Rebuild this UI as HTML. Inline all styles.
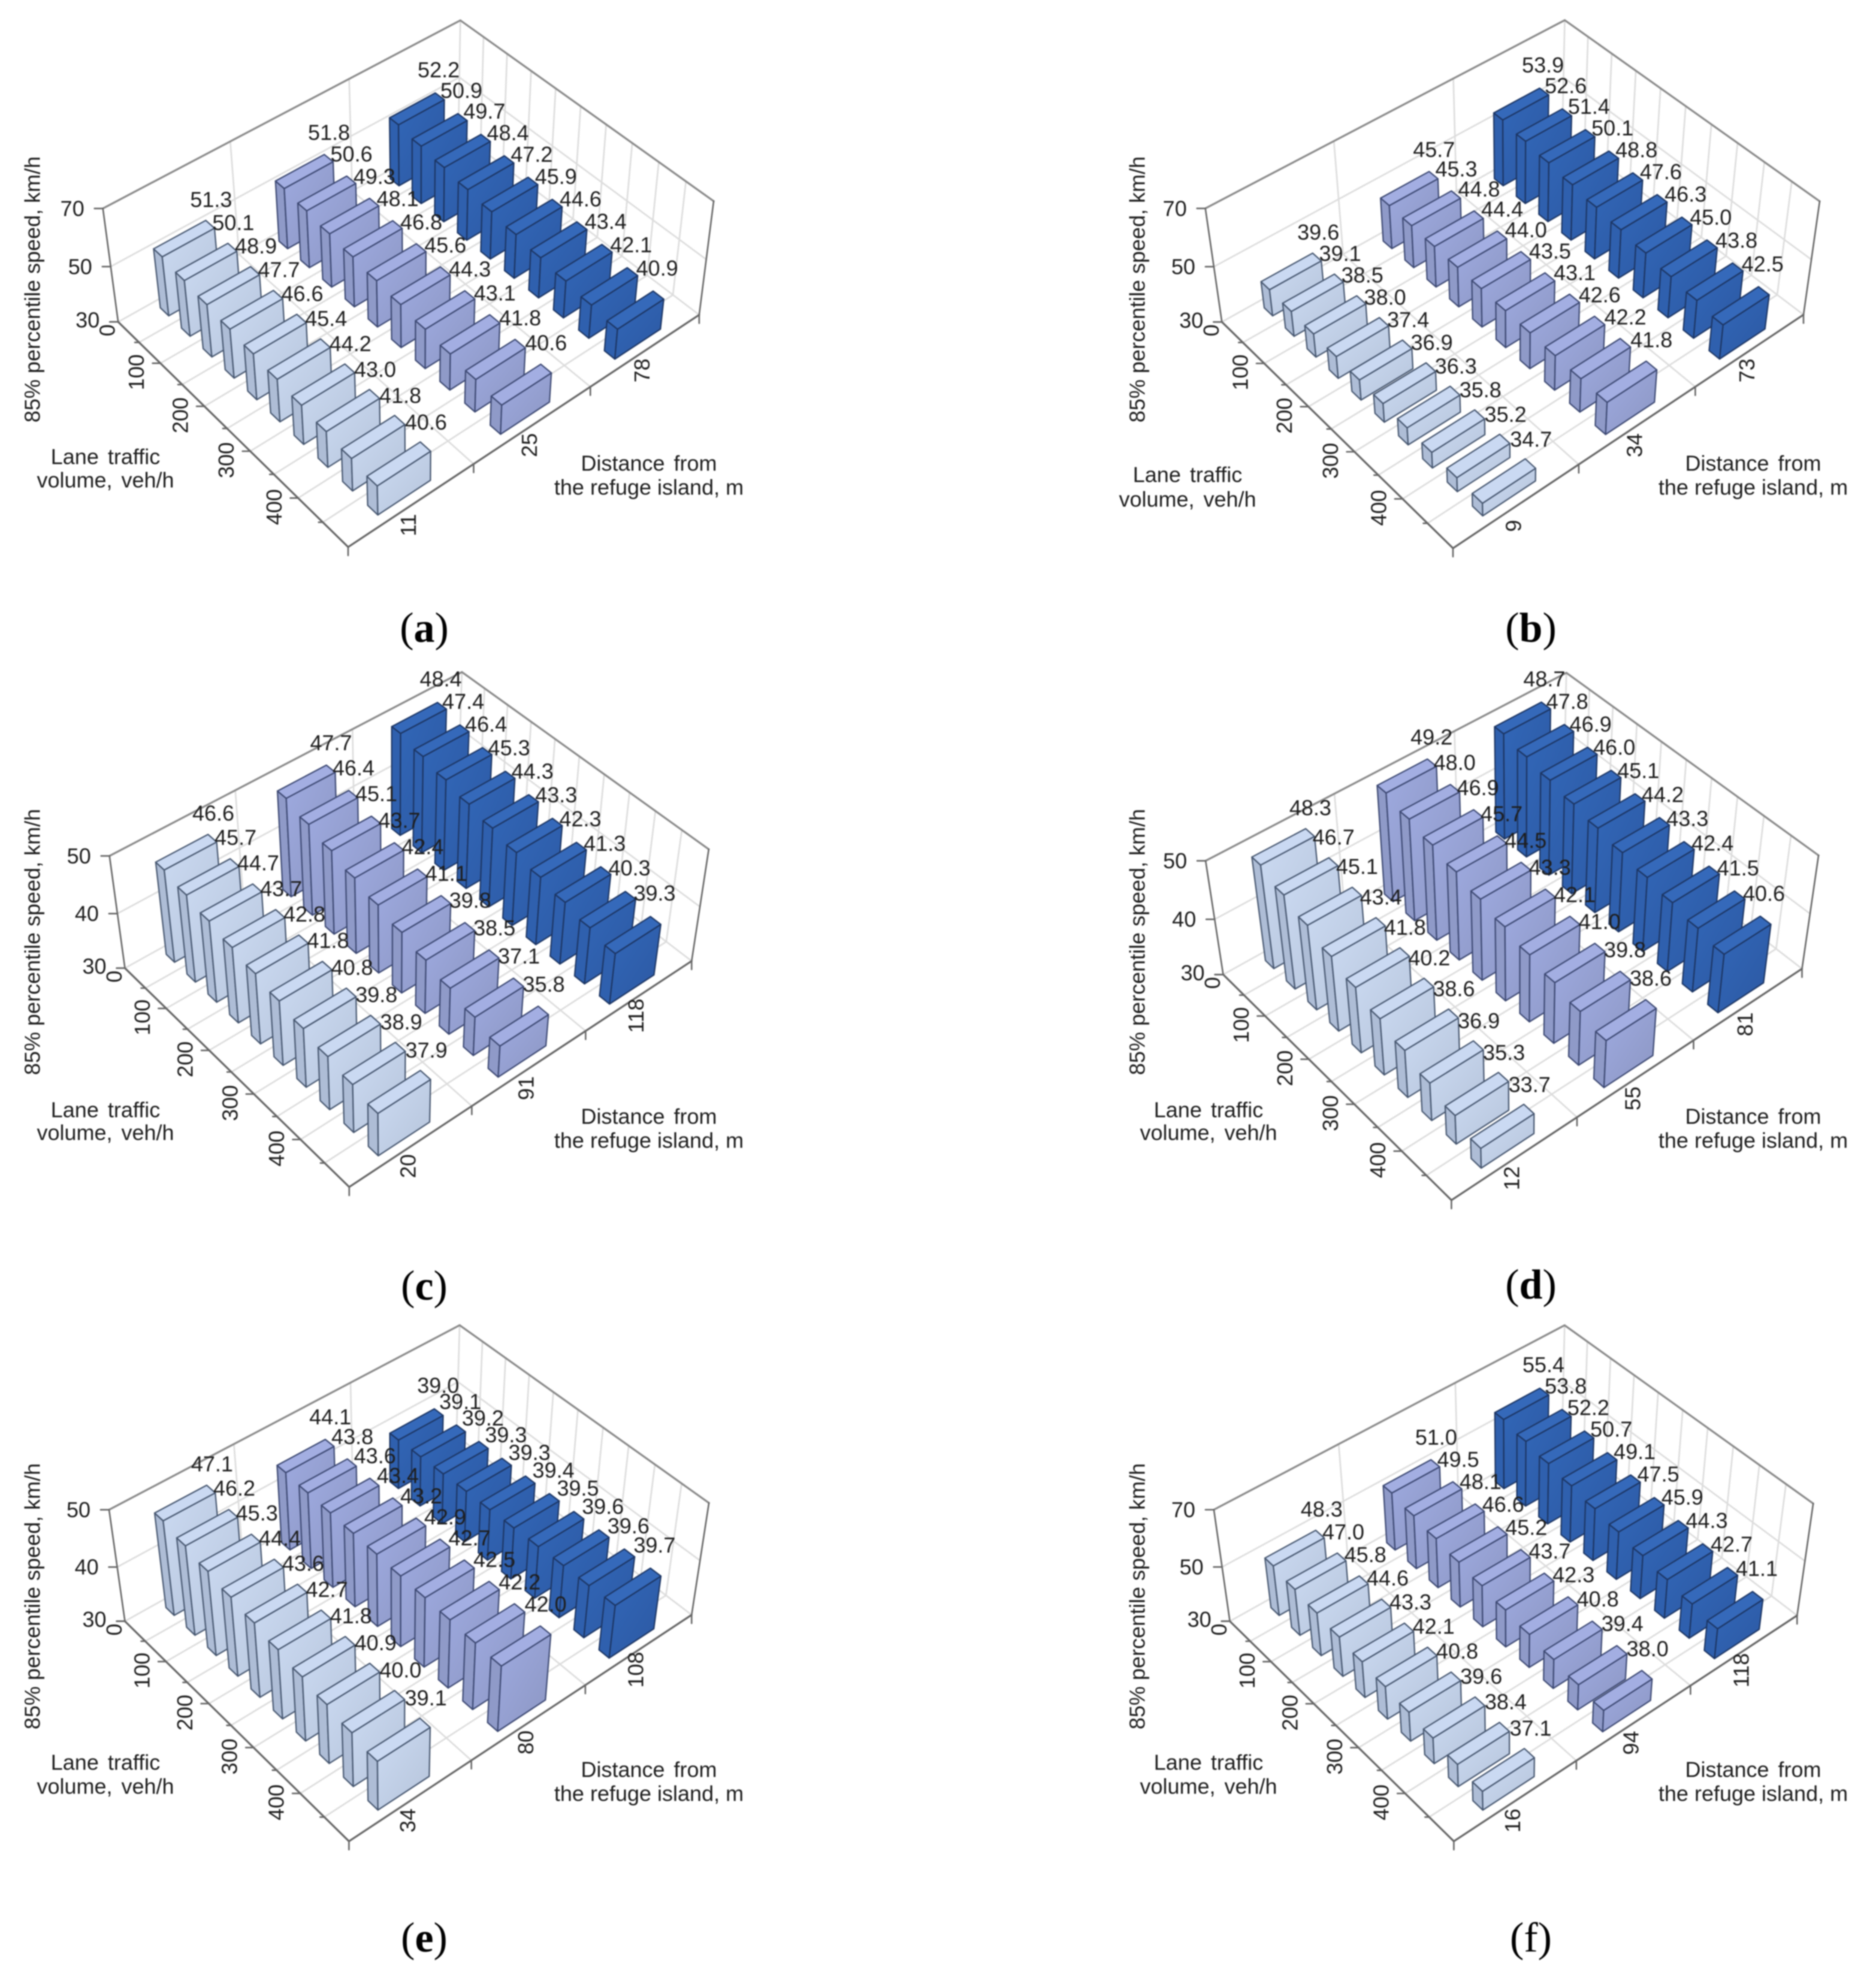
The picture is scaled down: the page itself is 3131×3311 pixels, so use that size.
<!DOCTYPE html>
<html lang="en">
<head>
<meta charset="utf-8">
<title>85% percentile speed 3D bar charts</title>
<style>
html,body{margin:0;padding:0;background:#fff;}
svg{display:block;filter:blur(1px);}
text{font-family:"Liberation Sans",sans-serif;fill:#1e1e1e;font-size:36px;}
.cap{font-family:"Liberation Serif",serif;font-size:70px;fill:#000;}
</style>
</head>
<body>
<svg id="figure" xmlns="http://www.w3.org/2000/svg" width="3131" height="3311" viewBox="0 0 3131 3311">
<defs>
<linearGradient id="front-light" x1="0" y1="0" x2="1" y2="1"><stop offset="0" stop-color="#cbdaf2"/><stop offset="1" stop-color="#b6c4da"/></linearGradient>
<linearGradient id="front-mid" x1="0" y1="0" x2="1" y2="1"><stop offset="0" stop-color="#9eaae0"/><stop offset="1" stop-color="#8c96c2"/></linearGradient>
<linearGradient id="front-dark" x1="0" y1="0" x2="1" y2="1"><stop offset="0" stop-color="#3267b8"/><stop offset="1" stop-color="#2c58a2"/></linearGradient>
</defs>
</svg>
<script>
// ---- chart data (km/h) ----
const volumeTicks = [0, 100, 200, 300, 400];
const seriesKeys = ['light', 'mid', 'dark'];

const panelALight = [51.3, 50.1, 48.9, 47.7, 46.6, 45.4, 44.2, 43.0, 41.8, 40.6];
const panelAMid = [51.8, 50.6, 49.3, 48.1, 46.8, 45.6, 44.3, 43.1, 41.8, 40.6];
const panelADark = [52.2, 50.9, 49.7, 48.4, 47.2, 45.9, 44.6, 43.4, 42.1, 40.9];
const panelADistances = [11, 25, 78];
const panelASpeedTicks = [30, 50, 70];

const panelBLight = [39.6, 39.1, 38.5, 38.0, 37.4, 36.9, 36.3, 35.8, 35.2, 34.7];
const panelBMid = [45.7, 45.3, 44.8, 44.4, 44.0, 43.5, 43.1, 42.6, 42.2, 41.8];
const panelBDark = [53.9, 52.6, 51.4, 50.1, 48.8, 47.6, 46.3, 45.0, 43.8, 42.5];
const panelBDistances = [9, 34, 73];
const panelBSpeedTicks = [30, 50, 70];

const panelCLight = [46.6, 45.7, 44.7, 43.7, 42.8, 41.8, 40.8, 39.8, 38.9, 37.9];
const panelCMid = [47.7, 46.4, 45.1, 43.7, 42.4, 41.1, 39.8, 38.5, 37.1, 35.8];
const panelCDark = [48.4, 47.4, 46.4, 45.3, 44.3, 43.3, 42.3, 41.3, 40.3, 39.3];
const panelCDistances = [20, 91, 118];
const panelCSpeedTicks = [30, 40, 50];

const panelDLight = [48.3, 46.7, 45.1, 43.4, 41.8, 40.2, 38.6, 36.9, 35.3, 33.7];
const panelDMid = [49.2, 48.0, 46.9, 45.7, 44.5, 43.3, 42.1, 41.0, 39.8, 38.6];
const panelDDark = [48.7, 47.8, 46.9, 46.0, 45.1, 44.2, 43.3, 42.4, 41.5, 40.6];
const panelDDistances = [12, 55, 81];
const panelDSpeedTicks = [30, 40, 50];

const panelELight = [47.1, 46.2, 45.3, 44.4, 43.6, 42.7, 41.8, 40.9, 40.0, 39.1];
const panelEMid = [44.1, 43.8, 43.6, 43.4, 43.2, 42.9, 42.7, 42.5, 42.2, 42.0];
const panelEDark = [39.0, 39.1, 39.2, 39.3, 39.3, 39.4, 39.5, 39.6, 39.6, 39.7];
const panelEDistances = [34, 80, 108];
const panelESpeedTicks = [30, 40, 50];

const panelFLight = [48.3, 47.0, 45.8, 44.6, 43.3, 42.1, 40.8, 39.6, 38.4, 37.1];
const panelFMid = [51.0, 49.5, 48.1, 46.6, 45.2, 43.7, 42.3, 40.8, 39.4, 38.0];
const panelFDark = [55.4, 53.8, 52.2, 50.7, 49.1, 47.5, 45.9, 44.3, 42.7, 41.1];
const panelFDistances = [16, 94, 118];
const panelFSpeedTicks = [30, 50, 70];

// ---- panel layout: projected corners of each plot box and title anchors ----
const panels = [
  {id:'a', light:panelALight, mid:panelAMid, dark:panelADark, dist:panelADistances, zt:panelASpeedTicks,
   L:[197,537], F:[581,913], R:[1167,525], Lt:[172,348], Bt:[768,33], Rt:[1191,336], Bm:[767,130],
   yt:[54,483], lane:[176,762,801], dt:[1083,773,813], cap:[708,1048]},
  {id:'b', light:panelBLight, mid:panelBMid, dark:panelBDark, dist:panelBDistances, zt:panelBSpeedTicks,
   L:[2039,537], F:[2425,915], R:[3010,525], Lt:[2012,348], Bt:[2611,33], Rt:[3037,336], Bm:[2610,130],
   yt:[1898,483], lane:[1982,792,833], dt:[2926,773,813], cap:[2555,1048]},
  {id:'c', light:panelCLight, mid:panelCMid, dark:panelCDark, dist:panelCDistances, zt:panelCSpeedTicks,
   L:[208,1615], F:[583,1981], R:[1154,1604], Lt:[183,1429], Bt:[770,1121], Rt:[1183,1417], Bm:[769,1217],
   yt:[54,1572], lane:[176,1852,1890], dt:[1083,1863,1903], cap:[708,2146]},
  {id:'d', light:panelDLight, mid:panelDMid, dark:panelDDark, dist:panelDDistances, zt:panelDSpeedTicks,
   L:[2041,1625], F:[2423,2003], R:[3007,1618], Lt:[2012,1438], Bt:[2614,1123], Rt:[3035,1426], Bm:[2613,1219],
   yt:[1898,1572], lane:[2017,1852,1890], dt:[2926,1863,1903], cap:[2555,2144]},
  {id:'e', light:panelELight, mid:panelEMid, dark:panelEDark, dist:panelEDistances, zt:panelESpeedTicks,
   L:[208,2704], F:[583,3073], R:[1154,2696], Lt:[182,2521], Bt:[767,2211], Rt:[1183,2507], Bm:[765,2307],
   yt:[54,2664], lane:[176,2941,2981], dt:[1083,2953,2993], cap:[708,3234]},
  {id:'f', light:panelFLight, mid:panelFMid, dark:panelFDark, dist:panelFDistances, zt:panelFSpeedTicks,
   L:[2052,2704], F:[2427,3073], R:[2999,2697], Lt:[2026,2521], Bt:[2611,2211], Rt:[3026,2508], Bm:[2610,2307],
   yt:[1898,2664], lane:[2017,2941,2981], dt:[2926,2953,2993], cap:[2555,3234]}
];

const NS = 'http://www.w3.org/2000/svg';
const svg = document.getElementById('figure');
const VOL_MAX = 500;
const BAR_HALF_VOL = 10;
const BAR_HALF_DIST = 0.07;
const edgeColor = {light:'#46566f', mid:'#3c4872', dark:'#1c3563'};
const topColor = {light:'#cad9f2', mid:'#a3aee2', dark:'#3569ba'};
const sideColor = {light:'#aebdd6', mid:'#8f9ac8', dark:'#2f60ae'};
const labelNudge = {light:3, mid:-1, dark:-6};

function mk(tag, parent, attrs) {
  const el = document.createElementNS(NS, tag);
  for (const k in attrs) el.setAttribute(k, attrs[k]);
  parent.appendChild(el);
  return el;
}

// Fit a 3x4 projection from unit-box coordinates to pixels (least squares).
function fitProjection(pairs) {
  const n = 11;
  const A = Array.from({length:n}, () => new Array(n + 1).fill(0));
  function addRow(r, b) {
    for (let i = 0; i < n; i++) {
      for (let j = 0; j < n; j++) A[i][j] += r[i] * r[j];
      A[i][n] += r[i] * b;
    }
  }
  pairs.forEach(([p, q]) => {
    const [u, v, z] = p;
    const x = q[0] / 1000, y = q[1] / 1000;
    addRow([u, v, z, 1, 0, 0, 0, 0, -x * u, -x * v, -x * z], x);
    addRow([0, 0, 0, 0, u, v, z, 1, -y * u, -y * v, -y * z], y);
  });
  for (let c = 0; c < n; c++) {
    let best = c;
    for (let r = c + 1; r < n; r++) if (Math.abs(A[r][c]) > Math.abs(A[best][c])) best = r;
    [A[c], A[best]] = [A[best], A[c]];
    for (let r = 0; r < n; r++) {
      if (r === c) continue;
      const f = A[r][c] / A[c][c];
      for (let k = c; k <= n; k++) A[r][k] -= f * A[c][k];
    }
  }
  const s = A.map((row, i) => row[n] / row[i]);
  return (u, v, z) => {
    const w = s[8] * u + s[9] * v + s[10] * z + 1;
    return [1000 * (s[0] * u + s[1] * v + s[2] * z + s[3]) / w,
            1000 * (s[4] * u + s[5] * v + s[6] * z + s[7]) / w];
  };
}

function pts(list) { return list.map(p => p[0].toFixed(1) + ',' + p[1].toFixed(1)).join(' '); }

function seg(parent, a, b, color, width) {
  return mk('line', parent, {x1:a[0].toFixed(1), y1:a[1].toFixed(1), x2:b[0].toFixed(1), y2:b[1].toFixed(1), stroke:color, 'stroke-width':width, 'stroke-linecap':'round'});
}

function label(parent, x, y, str, rot, cls) {
  const t = mk('text', parent, {x:x.toFixed(1), y:y.toFixed(1), 'text-anchor':'middle', 'dominant-baseline':'central'});
  if (rot) t.setAttribute('transform', 'rotate(-90 ' + x.toFixed(1) + ' ' + y.toFixed(1) + ')');
  if (cls) t.setAttribute('class', cls);
  t.textContent = str;
  return t;
}

panels.forEach(panel => {
  const proj = fitProjection([
    [[0,0,0], panel.L], [[1,0,0], panel.F], [[1,1,0], panel.R],
    [[0,0,1], panel.Lt], [[0,1,1], panel.Bt], [[1,1,1], panel.Rt],
    [[0,1,0.5], panel.Bm]
  ]);
  const zMin = panel.zt[0], zMax = panel.zt[panel.zt.length - 1];
  const uOf = vol => vol / VOL_MAX;
  const zOf = speed => (speed - zMin) / (zMax - zMin);
  const P = (vol, v, speed) => proj(uOf(vol), v, zOf(speed));

  const g = mk('g', svg, {});
  
  

  // Grid
  const grid = mk('g', g, {});
  
  
  const gc = '#dcdcdc', gw = 2.6;
  for (let vol = 50; vol < VOL_MAX; vol += 50) {
    seg(grid, P(vol,0,zMin), P(vol,1,zMin), gc, gw);
    seg(grid, P(vol,1,zMin), P(vol,1,zMax), gc, gw);
  }
  [1/3, 2/3].forEach(v => {
    seg(grid, P(0,v,zMin), P(VOL_MAX,v,zMin), gc, gw);
    seg(grid, P(0,v,zMin), P(0,v,zMax), gc, gw);
  });
  panel.zt.slice(1, -1).forEach(s => {
    seg(grid, P(0,0,s), P(0,1,s), gc, gw);
    seg(grid, P(0,1,s), P(VOL_MAX,1,s), gc, gw);
  });
  seg(grid, P(0,0,zMin), P(0,1,zMin), gc, gw);
  seg(grid, P(0,1,zMin), P(VOL_MAX,1,zMin), gc, gw);
  seg(grid, P(0,1,zMin), P(0,1,zMax), gc, gw);

  // Box outline and ticks
  const axes = mk('g', g, {});
  
  
  const oc = '#8a8a8a', ac = '#666666';
  seg(axes, P(0,0,zMax), P(0,1,zMax), oc, 3.2);
  seg(axes, P(0,1,zMax), P(VOL_MAX,1,zMax), oc, 3.2);
  seg(axes, P(VOL_MAX,1,zMax), P(VOL_MAX,1,zMin), ac, 2.6);
  seg(axes, P(0,0,zMax), P(0,0,zMin), ac, 2.6);
  seg(axes, P(0,0,zMin), P(VOL_MAX,0,zMin), ac, 3.2);
  seg(axes, P(VOL_MAX,0,zMin), P(VOL_MAX,1,zMin), ac, 3.2);
  panel.zt.forEach(s => {
    const p = P(0,0,s);
    seg(axes, p, [p[0] - 14, p[1]], ac, 2.6);
  });
  for (let vol = 0; vol <= 450; vol += 50) {
    const p = P(vol,0,zMin);
    const len = vol % 100 === 0 ? 13 : 7;
    seg(axes, p, [p[0] - len, p[1]], ac, 2.6);
  }
  [0, 1/3, 2/3, 1].forEach(v => {
    const p = P(VOL_MAX,v,zMin);
    seg(axes, p, [p[0], p[1] + 14], ac, 2.6);
  });

  // Bars, back to front
  const bars = mk('g', g, {});
  
  
  for (let j = 2; j >= 0; j--) {
    const key = seriesKeys[j];
    const vals = panel[key];
    const vC = (j + 0.5) / 3;
    vals.forEach((val, i) => {
      const volC = 25 + 50 * i;
      const u0 = volC - BAR_HALF_VOL, u1 = volC + BAR_HALF_VOL;
      const v0 = vC - BAR_HALF_DIST, v1 = vC + BAR_HALF_DIST;
      const bar = mk('g', bars, {stroke:edgeColor[key], 'stroke-width':2.2, 'stroke-linejoin':'round'});
      
      
      mk('polygon', bar, {fill:sideColor[key], points:pts([P(u0,v0,zMin), P(u1,v0,zMin), P(u1,v0,val), P(u0,v0,val)])});
      mk('polygon', bar, {fill:'url(#front-' + key + ')', points:pts([P(u1,v0,zMin), P(u1,v1,zMin), P(u1,v1,val), P(u1,v0,val)])});
      mk('polygon', bar, {fill:topColor[key], points:pts([P(u0,v0,val), P(u1,v0,val), P(u1,v1,val), P(u0,v1,val)])});
    });
  }

  // Value labels on top of all bars
  const vl = mk('g', g, {});
  
  
  seriesKeys.forEach((key, j) => {
    panel[key].forEach((val, i) => {
      const c = P(25 + 50 * i, (j + 0.5) / 3, val);
      const t = label(vl, c[0] + 42 + labelNudge[key], c[1] - 65 - i * 0.5, val.toFixed(1));
      
      
    });
  });

  // Tick labels
  panel.zt.forEach((s, k) => {
    const p = P(0,0,s);
    const t = label(g, p[0] - 51, p[1] - (k === 0 ? 3 : 0), String(s));
    
    
  });
  volumeTicks.forEach(vol => {
    const p = P(vol,0,zMin);
    const t = vol === 0 ? label(g, p[0] - 18, p[1] + 14, '0', true) : label(g, p[0] - 40, p[1] + 15, String(vol), true);
    
    
  });
  panel.dist.forEach((d, j) => {
    const p = P(VOL_MAX, (j + 0.5) / 3, zMin);
    const t = label(g, p[0] - 6, p[1] + 34, String(d), true);
    
    
  });

  // Axis titles
  const yTitle = label(g, panel.yt[0], panel.yt[1], '85% percentile speed, km/h', true);
  
  
  const lane1 = label(g, panel.lane[0], panel.lane[1], 'Lane traffic');
  lane1.setAttribute('word-spacing', '5');
  
  
  const lane2 = label(g, panel.lane[0], panel.lane[2], 'volume, veh/h');
  lane2.setAttribute('word-spacing', '5');
  
  
  const dist1 = label(g, panel.dt[0], panel.dt[1], 'Distance from');
  dist1.setAttribute('word-spacing', '5');
  
  
  const dist2 = label(g, panel.dt[0], panel.dt[2], 'the refuge island, m');
  
  

  // Caption: regular parentheses, bold letter
  const cap = mk('text', g, {x:panel.cap[0], y:panel.cap[1], 'text-anchor':'middle', 'dominant-baseline':'central', class:'cap'});
  
  
  cap.appendChild(document.createTextNode('('));
  const letter = mk('tspan', cap, {'font-weight': panel.id === 'f' ? 'normal' : 'bold'});
  letter.textContent = panel.id;
  cap.appendChild(document.createTextNode(')'));
});
</script>
</body>
</html>
